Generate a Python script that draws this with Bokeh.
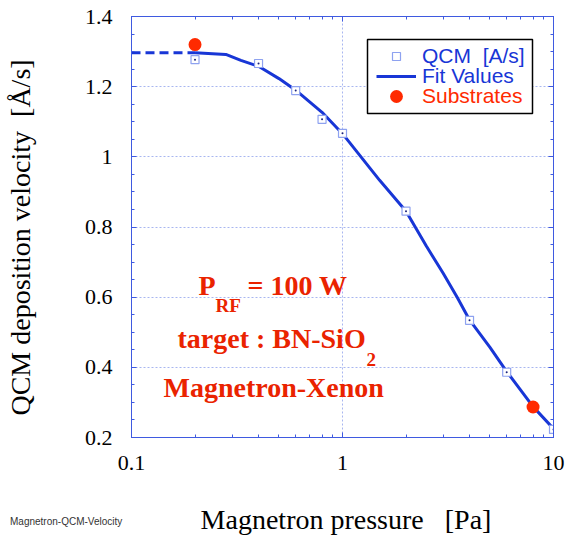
from bokeh.plotting import figure
from bokeh.models import (Range1d, FixedTicker, LinearAxis, LogAxis, Legend,
                          LegendItem, Label, BoxAnnotation, Div)
from bokeh.layouts import column
from bokeh.embed import file_html
from bokeh.resources import INLINE

# ---------------- data ----------------
qcm_p = [0.2, 0.4, 0.6, 0.8, 1.0, 2.0, 4.0, 6.0, 10.0]
qcm_v = [1.277, 1.266, 1.189, 1.107, 1.067, 0.845, 0.534, 0.386, 0.223]

fit_p = [0.2, 0.28, 0.33, 0.4, 0.5, 0.6, 0.8, 1.0, 1.5, 2.0, 2.5, 3.0, 3.5, 4.0,
         5.0, 6.0, 8.0, 10.0]
fit_v = [1.297, 1.292, 1.275, 1.258, 1.223, 1.19, 1.127, 1.066, 0.933, 0.845, 0.745,
         0.668, 0.599, 0.535, 0.457, 0.388, 0.288, 0.225]

ext_p = [0.1, 0.2]
ext_v = [1.297, 1.297]

sub_p = [0.2, 8.0]
sub_v = [1.32, 0.287]

x_ticks = [0.1, 1, 10]
x_tick_labels = ["0.1", "1", "10"]
x_minor = [0.2, 0.3, 0.4, 0.5, 0.6, 0.7, 0.8, 0.9, 2, 3, 4, 5, 6, 7, 8, 9]
y_ticks = [0.2, 0.4, 0.6, 0.8, 1.0, 1.2, 1.4]
y_tick_labels = ["0.2", "0.4", "0.6", "0.8", "1", "1.2", "1.4"]
y_minor = [round(0.2 + 0.05 * i, 2) for i in range(25)]

# ---------------- style ----------------
BLUE = "#1836d6"
RED = "#ff2a00"
TXT_RED = "#ea2300"
FRAME = "#3f5ae0"
GRID = "#a8b6f0"
SERIF = "Liberation Serif"
SANS = "Liberation Sans"
NB = "\u00a0"

p = figure(width=567, height=538, x_axis_type="log",
           x_range=Range1d(0.1, 10), y_range=Range1d(0.2, 1.4),
           output_backend="svg", toolbar_location=None,
           min_border_left=131, min_border_right=14,
           min_border_top=16, min_border_bottom=101)
p.background_fill_color = "white"
p.border_fill_color = "white"
p.outline_line_color = FRAME
p.outline_line_width = 1

xt = FixedTicker(ticks=x_ticks, minor_ticks=x_minor)
yt = FixedTicker(ticks=y_ticks, minor_ticks=y_minor)


def style_axis(ax):
    ax.axis_line_color = FRAME
    ax.major_tick_line_color = FRAME
    ax.minor_tick_line_color = FRAME
    ax.major_tick_in = 5
    ax.major_tick_out = 0
    ax.minor_tick_in = 3
    ax.minor_tick_out = 0


xa = p.xaxis[0]
ya = p.yaxis[0]
xa.ticker = xt
ya.ticker = yt
style_axis(xa)
style_axis(ya)
xa.major_label_overrides = {t: l for t, l in zip(x_ticks, x_tick_labels)}
ya.major_label_overrides = {t: l for t, l in zip(y_ticks, y_tick_labels)}
for ax in (xa, ya):
    ax.major_label_text_font = SERIF
    ax.major_label_text_font_size = "22px"
    ax.major_label_text_color = "black"
    ax.axis_label_text_font = SERIF
    ax.axis_label_text_font_size = "28px"
    ax.axis_label_text_font_style = "normal"
    ax.axis_label_text_color = "black"
xa.major_label_standoff = 18
ya.major_label_standoff = 19
xa.axis_label = NB + "Magnetron pressure" + NB + NB + " [Pa]"
ya.axis_label = "QCM deposition velocity" + NB + " [Å/s]" + NB * 3
xa.axis_label_standoff = 31
ya.axis_label_standoff = 46

top_ax = LogAxis(ticker=xt, major_label_text_font_size="1px",
                 major_label_text_alpha=0, major_label_standoff=0)
right_ax = LinearAxis(ticker=yt, major_label_text_font_size="1px",
                      major_label_text_alpha=0, major_label_standoff=0)
style_axis(top_ax)
style_axis(right_ax)
p.add_layout(top_ax, "above")
p.add_layout(right_ax, "right")

p.xgrid.grid_line_color = GRID
p.xgrid.grid_line_dash = "2 2"
p.ygrid.grid_line_color = GRID
p.ygrid.grid_line_dash = "2 2"

# ---------------- glyphs ----------------
p.line(ext_p, ext_v, line_color=BLUE, line_width=3, line_dash="9 5")
r_fit = p.line(fit_p, fit_v, line_color=BLUE, line_width=3)
r_qcm = p.scatter(qcm_p, qcm_v, marker="square", size=8, line_color="#8ea2f0",
                  fill_color="white", line_width=1.2)
p.scatter(qcm_p, qcm_v, marker="circle", size=2, line_color=None, fill_color="#1a237e")
r_sub = p.scatter(sub_p, sub_v, marker="circle", size=13, line_color=None, fill_color=RED)

# ---------------- legend ----------------
box = BoxAnnotation(left=236, right=401, top=398, bottom=324,
                    left_units="screen", right_units="screen",
                    top_units="screen", bottom_units="screen",
                    fill_color="white", fill_alpha=1.0,
                    line_color="black", line_width=1.5, line_alpha=1.0)
p.add_layout(box)


def make_legend(item, loc, color, gh=20):
    return Legend(items=[item], location=loc, label_text_color=color,
                  label_text_font=SANS, label_text_font_size="21px",
                  glyph_width=40, glyph_height=gh, label_height=20,
                  label_standoff=6, spacing=0, padding=0, margin=0,
                  border_line_alpha=0, background_fill_alpha=0)


p.add_layout(make_legend(LegendItem(label="QCM" + NB + " [A/s]", renderers=[r_qcm]),
                         (245, 369), BLUE))
p.add_layout(make_legend(LegendItem(label="Fit Values", renderers=[r_fit]),
                         (245, 349), BLUE))
p.add_layout(make_legend(LegendItem(label="Substrates", renderers=[r_sub]),
                         (245, 325), RED, gh=32))

# ---------------- annotations ----------------
def lab(x, y, text, size, bold=True, color=TXT_RED, font=SERIF):
    p.add_layout(Label(x=x, y=y, x_units="screen", y_units="screen", text=text,
                       text_font=font, text_font_size=size,
                       text_font_style="bold" if bold else "normal",
                       text_color=color, text_baseline="alphabetic",
                       text_align="left"))


lab(67, 152, "P", "28px")
lab(84, 132, "RF", "19px")
lab(116, 152, "= 100 W", "28px")
lab(46, 99, "target : BN-SiO", "28px")
lab(235, 78, "2", "19px")
lab(32, 50, "Magnetron-Xenon", "28px")

note = Div(text='<span style="font-family: \'Liberation Sans\'; font-size: 10px; '
                'color: #333333; white-space: nowrap;">Magnetron-QCM-Velocity</span>',
           width=140, height=14, margin=(-25, 0, 0, 10),
           styles={"position": "relative", "z-index": "10"})

layout = column(p, note)
open("out.html", "w").write(file_html(layout, INLINE))
